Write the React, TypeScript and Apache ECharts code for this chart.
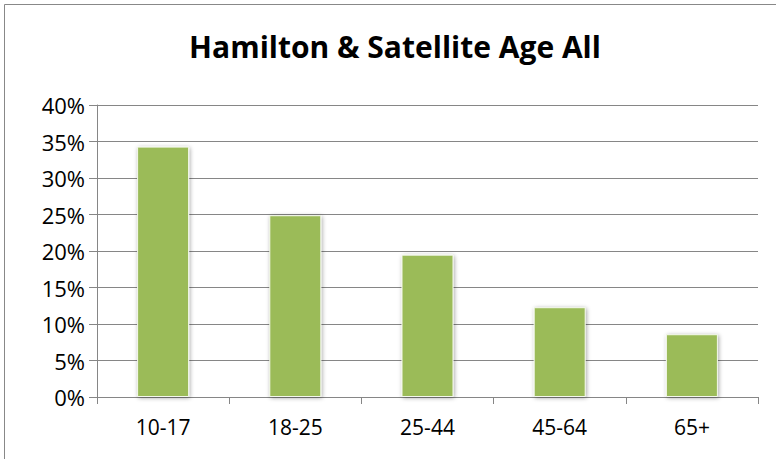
import React, { useEffect, useRef } from "react";
import * as echarts from "echarts";

const categories = ["10-17", "18-25", "25-44", "45-64", "65+"];
const values = [0.343, 0.249, 0.195, 0.123, 0.086];
const titleText = "Hamilton & Satellite Age All";

export default function App() {
  const ref = useRef<HTMLDivElement>(null);
  useEffect(() => {
    const chart = echarts.init(ref.current!, null, { renderer: "svg" });
    chart.setOption({
      animation: false,
      backgroundColor: "#ffffff",
      title: {
        text: titleText,
        left: 390,
        top: 26,
        textAlign: "center",
        textStyle: { fontFamily: "Open Sans", fontWeight: "bold", fontSize: 30, color: "#000" },
      },
      graphic: [
        {
          type: "line",
          shape: { x1: 4.5, y1: 4.5, x2: 4.5, y2: 470 },
          style: { stroke: "#888", lineWidth: 1 },
          silent: true,
        },
        {
          type: "line",
          shape: { x1: 4.5, y1: 4.5, x2: 776, y2: 4.5 },
          style: { stroke: "#888", lineWidth: 1 },
          silent: true,
        },
      ],
      grid: { left: 97, right: 18, top: 105, bottom: 62 },
      xAxis: {
        type: "category",
        data: categories,
        axisLine: { lineStyle: { color: "#868686", width: 1 } },
        axisTick: { show: true, length: 7, inside: false, lineStyle: { color: "#868686" } },
        axisLabel: { fontFamily: "Open Sans", fontSize: 21, color: "#000", margin: 19 },
      },
      yAxis: {
        type: "value",
        min: 0,
        max: 0.4,
        interval: 0.05,
        axisLine: { show: true, lineStyle: { color: "#868686", width: 1 } },
        axisTick: { show: true, length: 8, lineStyle: { color: "#868686" } },
        splitLine: { show: true, lineStyle: { color: "#868686", width: 1 } },
        axisLabel: {
          fontFamily: "Open Sans",
          fontSize: 22,
          color: "#000",
          margin: 12,
          formatter: (v: number) => Math.round(v * 100) + "%",
        },
      },
      series: [
        {
          type: "bar",
          data: values,
          barWidth: 52,
          itemStyle: {
            color: "#9BBB59",
            borderColor: "#f4f8ec",
            borderWidth: 1,
            shadowBlur: 4,
            shadowColor: "rgba(0,0,0,0.35)",
            shadowOffsetX: 1,
            shadowOffsetY: 1,
          },
        },
      ],
    });
    return () => chart.dispose();
  }, []);
  return (
    <div
      ref={ref}
      style={{ position: "fixed", left: 0, top: 0, width: 776, height: 459 }}
    />
  );
}
